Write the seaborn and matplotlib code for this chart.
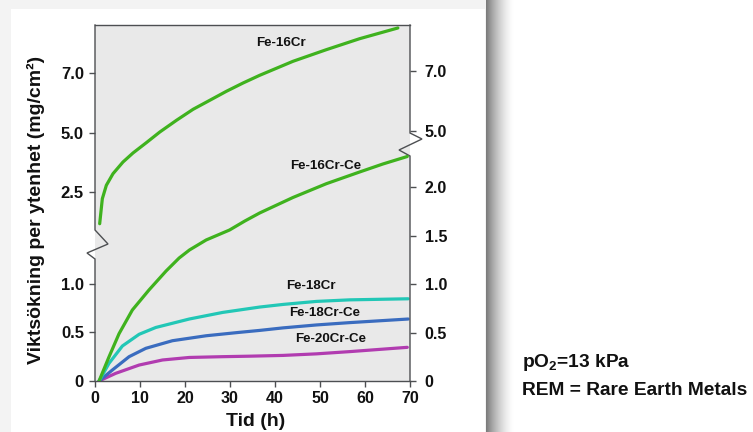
import numpy as np
import pandas as pd
import matplotlib
matplotlib.use("Agg")
import matplotlib.pyplot as plt
from matplotlib.patches import Rectangle
import seaborn as sns

# ---------------- data ----------------
hours_16cr = [1.04, 1.63, 2.52, 4.0, 6.22, 8.44, 11.4, 14.4, 18.1, 21.8, 25.5, 29.2, 32.9, 36.6,
              44.0, 51.4, 58.8, 67.3]
gain_16cr = [1.978, 2.386, 2.771, 3.263, 3.758, 4.140, 4.576, 5.023, 5.415, 5.784, 6.085, 6.387,
             6.665, 6.923, 7.392, 7.781, 8.149, 8.508]

hours_16cr_ce = [0.9, 3.1, 5.35, 8.3, 12.0, 15.8, 18.7, 21.0, 24.7, 29.9, 33.3, 36.6, 44.0, 51.4,
                 58.8, 64.0, 69.4]
gain_16cr_ce = [0.0, 0.248, 0.489, 0.733, 0.940, 1.136, 1.270, 1.353, 1.456, 1.559, 1.652, 1.735,
                1.895, 2.037, 2.158, 2.241, 2.318]

hours_18cr = [0.9, 3.12, 6.09, 9.81, 13.5, 20.95, 28.4, 36.6, 41.8, 49.2, 56.6, 69.6]
gain_18cr = [0.0, 0.182, 0.36, 0.48, 0.55, 0.637, 0.705, 0.760, 0.787, 0.818, 0.834, 0.845]

hours_18cr_ce = [0.9, 3.86, 7.58, 11.3, 17.2, 24.7, 32.1, 36.6, 41.8, 49.2, 56.6, 69.6]
gain_18cr_ce = [0.0, 0.113, 0.250, 0.336, 0.414, 0.465, 0.500, 0.520, 0.546, 0.576, 0.600, 0.637]

hours_20cr_ce = [0.9, 4.61, 9.81, 15.0, 20.95, 28.4, 34.3, 41.8, 49.2, 56.6, 69.4]
gain_20cr_ce = [0.0, 0.079, 0.164, 0.216, 0.242, 0.250, 0.255, 0.263, 0.279, 0.302, 0.346]

left_ticks = [0, 0.5, 1.0, 2.5, 5.0, 7.0]
left_ticklabels = ["0", "0.5", "1.0", "2.5", "5.0", "7.0"]
right_ticks = [0, 0.5, 1.0, 1.5, 2.0, 5.0, 7.0]
right_ticklabels = ["0", "0.5", "1.0", "1.5", "2.0", "5.0", "7.0"]
x_ticks = [0, 10, 20, 30, 40, 50, 60, 70]

# broken-axis scales (value -> vertical position), left and right axis
left_vals = [-1.0, 0.0, 1.0, 2.5, 5.0, 7.0, 12.0]
left_pos = [-97.3, 0.0, 97.3, 189.3, 248.3, 308.0, 457.25]
right_vals = [-1.0, 0.0, 2.35, 4.3, 5.0, 7.0, 12.0]
right_pos = [-96.85, 0.0, 227.6, 229.4, 250.3, 310.0, 459.25]
POS_TOP = 356.0

# ---------------- style ----------------
plt.rcParams["font.family"] = ["Liberation Sans", "DejaVu Sans"]
plt.rcParams["font.weight"] = "bold"
plt.rcParams["axes.labelweight"] = "bold"
plt.rcParams["mathtext.fontset"] = "custom"
plt.rcParams["mathtext.rm"] = "Liberation Sans:bold"
plt.rcParams["mathtext.it"] = "Liberation Sans:bold"
plt.rcParams["mathtext.bf"] = "Liberation Sans:bold"

GREEN = "#3fb21e"
CYAN = "#22c7b6"
BLUE = "#3a6cbf"
MAGENTA = "#b13cb0"
SPINE = "#4d4f52"
TXT = "#111111"

W, H = 753, 432
fig = plt.figure(figsize=(W / 100, H / 100), dpi=100)
fig.patch.set_facecolor("white")

# background "card" with a shadow
bg = fig.add_axes([0, 0, 1, 1], zorder=-10)
bg.set_xlim(0, W)
bg.set_ylim(H, 0)
bg.axis("off")
bg.add_patch(Rectangle((0, 0), 486, H, color="#f3f3f3", lw=0))
bg.add_patch(Rectangle((11, 9), 474, H, color="white", lw=0))
g = np.linspace(0, 1, 80)
shade = 1 - 0.55 * (1 - g) ** 1.6
bg.imshow(np.tile(shade, (10, 1)), extent=[485, 515, H, 0], cmap="gray",
          vmin=0, vmax=1, aspect="auto", interpolation="bilinear")


def make_funcs(vals, pos):
    vals = np.asarray(vals)
    pos = np.asarray(pos)

    def fwd(v):
        return np.interp(v, vals, pos)

    def inv(p):
        return np.interp(p, pos, vals)
    return fwd, inv


fwd_l, inv_l = make_funcs(left_vals, left_pos)
fwd_r, inv_r = make_funcs(right_vals, right_pos)

ax = fig.add_axes([95 / W, 1 - 381 / H, 315 / W, 356 / H])
ax.set_facecolor("#e9e9e9")
ax2 = ax.twinx()

lw = 2.3
df16 = pd.DataFrame({"t": hours_16cr, "w": gain_16cr})
df18 = pd.DataFrame({"t": hours_18cr, "w": gain_18cr})
df18ce = pd.DataFrame({"t": hours_18cr_ce, "w": gain_18cr_ce})
df20ce = pd.DataFrame({"t": hours_20cr_ce, "w": gain_20cr_ce})
df16ce = pd.DataFrame({"t": hours_16cr_ce, "w": gain_16cr_ce})

for d, c in [(df20ce, MAGENTA), (df18ce, BLUE), (df18, CYAN), (df16, GREEN)]:
    sns.lineplot(data=d, x="t", y="w", ax=ax, color=c, lw=lw, estimator=None,
                 solid_capstyle="round", solid_joinstyle="round")
sns.lineplot(data=df16ce, x="t", y="w", ax=ax2, color=GREEN, lw=lw, estimator=None,
             solid_capstyle="round", solid_joinstyle="round")

ax.set_yscale("function", functions=(fwd_l, inv_l))
ax2.set_yscale("function", functions=(fwd_r, inv_r))
ax.set_xlim(0, 70)
ax.set_ylim(0, float(inv_l(POS_TOP)))
ax2.set_ylim(0, float(inv_r(POS_TOP)))

ax.set_xticks(x_ticks)
ax.set_xticklabels([str(v) for v in x_ticks])
ax.set_yticks(left_ticks)
ax.set_yticklabels(left_ticklabels)
ax2.set_yticks(right_ticks)
ax2.set_yticklabels(right_ticklabels)
ax.yaxis.set_minor_locator(matplotlib.ticker.NullLocator())
ax2.yaxis.set_minor_locator(matplotlib.ticker.NullLocator())

ax.tick_params(axis="both", direction="out", length=4, width=1.0, color=SPINE,
               labelcolor=TXT)
ax.tick_params(axis="y", pad=4, labelsize=12)
ax.tick_params(axis="x", pad=3, labelsize=11.5)
ax2.tick_params(axis="y", direction="out", length=4, width=1.0, color=SPINE,
                labelsize=11.5, labelcolor=TXT, pad=6.5)
for lab in ax.get_xticklabels() + ax.get_yticklabels() + ax2.get_yticklabels():
    lab.set_fontweight("bold")

ax.set_xlabel("Tid (h)", fontsize=14, color=TXT)
ax.xaxis.set_label_coords(0.511, -0.114)
ax.xaxis.label.set_va("center")
ax.set_ylabel("Viktsökning per ytenhet (mg/cm²)", fontsize=14, color=TXT)
ax.yaxis.set_label_coords(-0.187, 0.48)
ax.yaxis.label.set_va("center")
ax.yaxis.label.set_ha("center")
ax2.set_ylabel("")

# spines: top/bottom normal, left/right drawn with break marks
for a in (ax, ax2):
    for s in a.spines.values():
        s.set_visible(False)
for s in ("top", "bottom"):
    ax.spines[s].set_visible(True)
    ax.spines[s].set_color(SPINE)
    ax.spines[s].set_linewidth(1.0)

kw = dict(transform=ax.transAxes, color=SPINE, lw=1.0, clip_on=False, zorder=5,
          solid_joinstyle="miter")
ax.plot([0, 0, 0.0413, -0.0254, 0, 0],
        [1, 0.4242, 0.3848, 0.3596, 0.3427, 0], **kw)
ax.plot([1, 1, 1.0381, 0.9651, 1, 1],
        [1, 0.6966, 0.6798, 0.6489, 0.6320, 0], **kw)

# curve labels
lab_kw = dict(transform=ax.transAxes, fontsize=9.6, fontweight="bold", color=TXT,
              ha="left", va="center")
ax.text(0.513, 0.950, "Fe-16Cr", **lab_kw)
ax.text(0.621, 0.605, "Fe-16Cr-Ce", **lab_kw)
ax.text(0.606, 0.268, "Fe-18Cr", **lab_kw)
ax.text(0.617, 0.192, "Fe-18Cr-Ce", **lab_kw)
ax.text(0.635, 0.118, "Fe-20Cr-Ce", **lab_kw)

fig.text(522 / W, 1 - 366.7 / H, "pO$_2$=13 kPa", fontsize=13.8, fontweight="bold",
         color=TXT, ha="left", va="baseline")
fig.text(522 / W, 1 - 395 / H, "REM = Rare Earth Metals", fontsize=13.8,
         fontweight="bold", color=TXT, ha="left", va="baseline")

fig.savefig("out.png", dpi=100)
